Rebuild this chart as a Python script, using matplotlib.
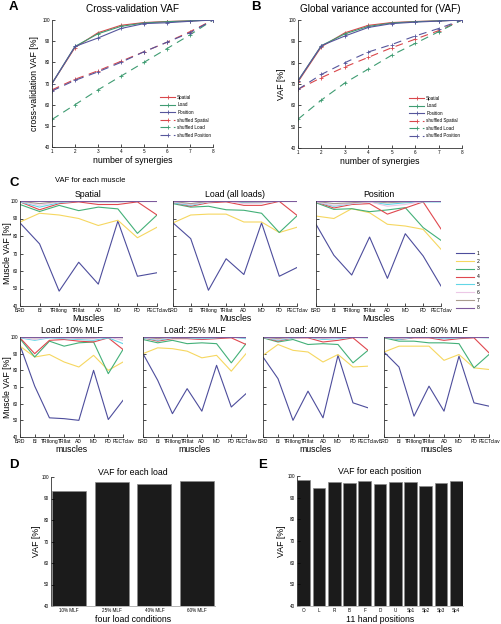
import matplotlib
matplotlib.use('Agg')
import matplotlib.pyplot as plt
from matplotlib.lines import Line2D

plt.rcParams['font.family'] = ['Liberation Sans', 'DejaVu Sans']
plt.rcParams['xtick.direction'] = 'in'
plt.rcParams['ytick.direction'] = 'in'

W, H = 502, 624
fig = plt.figure(figsize=(W / 100, H / 100), dpi=100)


def ax_px(l, t, r, b):
    return fig.add_axes([l / W, 1 - b / H, (r - l) / W, (b - t) / H])


# ---------------- data ----------------
synergies = [1, 2, 3, 4, 5, 6, 7, 8]
series_names = ['Spatial', 'Load', 'Position', 'shuffled Spatial', 'shuffled Load', 'shuffled Position']

cv_spatial = [70, 87, 94, 97.5, 98.8, 99.3, 99.6, 100]
cv_load = [70, 87.5, 93.5, 97, 98.6, 99.2, 99.6, 100]
cv_position = [70, 87.5, 91.5, 96, 98.3, 98.7, 99.4, 100]
cv_sh_spatial = [67, 72, 76, 80.5, 85, 89.5, 94.5, 100]
cv_sh_load = [53, 60, 67, 73.5, 80, 86.5, 93, 100]
cv_sh_position = [66.5, 71.5, 75.5, 80, 85, 89.5, 94, 100]

g_spatial = [71, 87.5, 94, 97.5, 98.8, 99.3, 99.6, 100]
g_load = [71.5, 88, 93.5, 97, 98.6, 99.2, 99.6, 100]
g_position = [71.5, 88, 92.5, 96.5, 98.3, 99, 99.5, 100]
g_sh_spatial = [67.5, 73, 78, 82.5, 87, 91, 95, 100]
g_sh_load = [53.5, 62.5, 70.5, 77, 83.5, 89, 94.5, 100]
g_sh_position = [67.5, 74.5, 80, 85, 88.5, 92.5, 96, 100]

muscles = ['BRD', 'BI', 'TRIlong', 'TRIlat', 'AD', 'MD', 'PD', 'PECTclav']
syn_labels = ['1', '2', '3', '4', '5', '6', '7', '8']

musc_spatial = [
    [87.5, 75.5, 48.5, 65, 52.5, 88.5, 57, 59],
    [88, 93, 92, 90, 86, 89, 79, 85],
    [98, 94, 97.5, 94.5, 96.5, 95.5, 81.5, 92],
    [99.5, 95, 98.5, 99.5, 98, 98, 99.5, 92],
    [99.5, 96.5, 99, 100, 99.5, 99.5, 100, 100],
    [99.8, 97.5, 99.5, 99.8, 99.5, 99.5, 100, 100],
    [99.9, 98.5, 99.8, 100, 99.8, 99.8, 100, 100],
    [100, 100, 100, 100, 100, 100, 100, 100],
]
musc_load_all = [
    [87.5, 78.5, 49, 67, 58, 87.5, 57, 62],
    [87.5, 92, 92.5, 92.5, 88, 88, 82, 85],
    [98.5, 96.5, 97, 95, 94.7, 93, 82, 91.5],
    [99, 97, 99, 99.5, 97.5, 97.5, 99.8, 91.8],
    [99, 97.5, 99.5, 100, 99, 99, 100, 100],
    [99.5, 98, 99.5, 100, 98.5, 99, 100, 100],
    [99.8, 98.5, 99.8, 100, 99.5, 99.5, 100, 100],
    [100, 100, 100, 100, 100, 100, 100, 100],
]
musc_position = [
    [86.7, 69, 57.7, 79.4, 55.8, 81.3, 68.6, 51.4],
    [91.4, 90, 95.6, 93.3, 86.7, 85.7, 83.8, 72.4],
    [99, 95.2, 95.6, 93.9, 94.9, 96.2, 84.8, 77.5],
    [99.5, 96, 98, 98.5, 92.5, 96, 99.5, 84],
    [99.5, 97, 98.5, 99.5, 98, 99, 99.5, 99.5],
    [99.5, 97.5, 98.5, 99.5, 97, 98, 99.8, 100],
    [99.8, 98.5, 99, 99.8, 99, 99.5, 100, 100],
    [100, 100, 100, 100, 100, 100, 100, 100],
]
musc_load10 = [
    [95, 70.5, 51.5, 51, 50, 80, 50.5, 62],
    [94.5, 88, 89.5, 85, 82, 89, 80, 85],
    [99, 88, 97.5, 94.5, 96.5, 97, 78, 92.5],
    [99.5, 90, 98, 98.5, 97.5, 97, 99.5, 92.5],
    [99.5, 98, 99.5, 99, 98.5, 98, 99.5, 96],
    [99.8, 98.5, 99.8, 99.5, 99, 99, 100, 98],
    [100, 99.5, 100, 99.8, 99.5, 99.5, 100, 99.5],
    [100, 100, 100, 100, 100, 100, 100, 100],
]
musc_load25 = [
    [90, 74, 54, 69, 55.5, 83, 58, 66],
    [90, 93.5, 93, 91.5, 87.5, 89, 79.5, 90],
    [98.5, 96.5, 98, 96, 96.5, 96, 84.5, 96],
    [99.5, 97.5, 99, 99, 98.5, 99, 99.5, 95.5],
    [99.5, 98, 99.5, 99.5, 99, 99.5, 100, 99],
    [99.8, 98.5, 99.8, 99.8, 99.5, 99.8, 100, 99.5],
    [100, 99, 100, 100, 99.8, 100, 100, 100],
    [100, 100, 100, 100, 100, 100, 100, 100],
]
musc_load40 = [
    [88, 75, 50, 67.5, 51.5, 89, 60.5, 57.5],
    [89, 95.5, 92, 91, 85, 89.5, 82, 82.5],
    [99.5, 97, 98.5, 95.5, 96, 95.5, 84.5, 92],
    [99.8, 97.5, 99.5, 99.5, 97, 98, 99.5, 92],
    [99.8, 98, 99.5, 99.8, 98.5, 99, 99.8, 99.5],
    [99.9, 98.5, 99.8, 99.9, 99, 99.5, 100, 99.8],
    [100, 99, 100, 100, 99.5, 99.8, 100, 100],
    [100, 100, 100, 100, 100, 100, 100, 100],
]
musc_load60 = [
    [91, 82, 52.5, 70.5, 55.5, 88.5, 60.5, 58.5],
    [91, 94.5, 94.5, 94.5, 86, 89.5, 81.5, 80.5],
    [99.5, 97.5, 97.5, 96.5, 96.5, 96, 81.5, 89.5],
    [99.8, 98.5, 99.5, 99.5, 98, 99, 99.5, 90.5],
    [99.8, 98.5, 99.8, 99.8, 99, 99.5, 99.8, 99.5],
    [99.9, 99, 99.9, 99.9, 99.5, 99.8, 100, 99.8],
    [100, 99.5, 100, 100, 99.8, 100, 100, 100],
    [100, 100, 100, 100, 100, 100, 100, 100],
]

load_conditions = ['10% MLF', '25% MLF', '40% MLF', '60% MLF']
load_vaf = [93.6, 97.7, 96.7, 98.0]

positions = ['O', 'L', 'R', 'B', 'F', 'D', 'U', 'Sp1', 'Sp2', 'Sp3', 'Sp4']
position_vaf = [98.2, 94.3, 97.2, 96.6, 97.5, 96.5, 97.4, 97.1, 95.2, 96.8, 97.8]

# ---------------- styles ----------------
c_red = '#d9474b'
c_green = '#3f9c72'
c_blue = '#56569c'
ab_colors = [c_red, c_green, c_blue, c_red, c_green, c_blue]
ab_styles = ['-', '-', '-', (0, (7, 5)), (0, (7, 5)), (0, (7, 5))]

syn_colors = ['#4d4d9c', '#f6d760', '#43b078', '#e0484f', '#62d6e6',
              '#ecc8e6', '#a99d90', '#7d5a9c']

TICK_FS = 3.3
LAB_FS = 6.3


def style_axes(ax):
    for s in ['top', 'right']:
        ax.spines[s].set_visible(False)
    for s in ['left', 'bottom']:
        ax.spines[s].set_linewidth(0.6)
        ax.spines[s].set_color('#333333')
    ax.tick_params(length=2, width=0.5, labelsize=TICK_FS, pad=1.5)


def set_ylabel_px(ax, left_px, width_px, label_center_px):
    # y-label anchor is the bottom (right edge once rotated); shift by ~half its height
    ax.yaxis.set_label_coords((label_center_px + 4 - left_px) / width_px, 0.5)


# ---------------- panels A and B ----------------
def synergy_panel(ax, data, title, ylabel):
    for vals, name, col, ls in zip(data, series_names, ab_colors, ab_styles):
        ax.plot(synergies, vals, color=col, linestyle=ls, linewidth=0.8,
                marker='+', markersize=2.5, markeredgewidth=0.6, label=name)
    ax.set_xlim(1, 8)
    ax.set_ylim(40, 100)
    ax.set_xticks(synergies)
    ax.set_yticks([40, 50, 60, 70, 80, 90, 100])
    style_axes(ax)
    ax.set_title(title, fontsize=7.2, pad=6)
    ax.set_xlabel('number of synergies', fontsize=LAB_FS, labelpad=1.5)
    ax.set_ylabel(ylabel, fontsize=LAB_FS)
    ax.legend(loc='lower right', bbox_to_anchor=(1.0, 0.06), frameon=False,
              fontsize=3.3, handlelength=3.2, labelspacing=0.55,
              numpoints=1, borderaxespad=0, handletextpad=0.5)


axA = ax_px(52, 20, 213, 147)
synergy_panel(axA, [cv_spatial, cv_load, cv_position, cv_sh_spatial, cv_sh_load, cv_sh_position],
              'Cross-validation VAF', 'cross-validation VAF [%]')
set_ylabel_px(axA, 52, 161, 35)
axB = ax_px(298, 20, 462, 148)
synergy_panel(axB, [g_spatial, g_load, g_position, g_sh_spatial, g_sh_load, g_sh_position],
              'Global variance accounted for (VAF)', 'VAF [%]')
set_ylabel_px(axB, 298, 164, 282)

# ---------------- panel C ----------------
def muscle_panel(ax, data, title, xlabel, show_ylab, l, r):
    x = list(range(len(muscles)))
    for k in range(len(data)):
        ax.plot(x, data[k], color=syn_colors[k], linewidth=0.8, label=syn_labels[k])
    ax.set_xlim(0, len(muscles) - 1)
    ax.set_ylim(40, 100)
    ax.set_xticks(x)
    ax.set_xticklabels(muscles)
    ax.set_yticks([40, 50, 60, 70, 80, 90, 100])
    style_axes(ax)
    ax.tick_params(axis='x', labelsize=3.6)
    if show_ylab:
        ax.set_ylabel('Muscle VAF [%]', fontsize=LAB_FS)
        set_ylabel_px(ax, l, r - l, 8)
    else:
        ax.set_yticklabels([])
    ax.set_title(title, fontsize=6.3, pad=3)
    ax.set_xlabel(xlabel, fontsize=LAB_FS, labelpad=1)


row1 = [(20, 157, musc_spatial, 'Spatial', True),
        (173, 297, musc_load_all, 'Load (all loads)', False),
        (316, 441, musc_position, 'Position', False)]
for l, r, d, t, yl in row1:
    a = ax_px(l, 201, r, 306)
    muscle_panel(a, d, t, 'Muscles', yl, l, r)

row2 = [(20, 123, musc_load10, 'Load: 10% MLF', True),
        (143, 246, musc_load25, 'Load: 25% MLF', False),
        (263, 368, musc_load40, 'Load: 40% MLF', False),
        (384, 489, musc_load60, 'Load: 60% MLF', False)]
for l, r, d, t, yl in row2:
    a = ax_px(l, 337, r, 437)
    muscle_panel(a, d, t, 'muscles', yl, l, r)

handles = [Line2D([], [], color=syn_colors[k], linewidth=0.8) for k in range(len(syn_labels))]
fig.legend(handles, syn_labels, loc='upper left', bbox_to_anchor=(456 / W, 1 - 251 / H),
           frameon=False, fontsize=3.6, handlelength=3.6, labelspacing=0.55,
           handletextpad=0.6, borderaxespad=0, borderpad=0)

fig.text(55 / W, 1 - 180 / H, 'VAF for each muscle', fontsize=5.5, va='center', ha='left')

# ---------------- panels D and E ----------------
def bar_panel(ax, labels, vals, title, xlabel, width):
    x = list(range(1, len(labels) + 1))
    ax.bar(x, vals, width=width, color='#1b1b1b', edgecolor='#8a8a8a', linewidth=0.5)
    ax.set_xlim(1 - width / 2 - 0.02, len(labels) + width / 2 + 0.02)
    ax.set_ylim(40, 100)
    ax.set_xticks(x)
    ax.set_xticklabels(labels)
    ax.set_yticks([40, 50, 60, 70, 80, 90, 100])
    style_axes(ax)
    ax.spines['bottom'].set_color('#aaaaaa')
    ax.tick_params(axis='x', length=0, labelsize=3.3)
    ax.set_title(title, fontsize=6.3, pad=1)
    ax.set_xlabel(xlabel, fontsize=LAB_FS, labelpad=1.5)
    ax.set_ylabel('VAF [%]', fontsize=LAB_FS)


axD = ax_px(51, 477, 215, 606)
bar_panel(axD, load_conditions, load_vaf, 'VAF for each load', 'four load conditions', 0.79)
set_ylabel_px(axD, 51, 164, 37)
axE = ax_px(297, 476, 463, 606)
bar_panel(axE, positions, position_vaf, 'VAF for each position', '11 hand positions', 0.83)
set_ylabel_px(axE, 297, 166, 282)

# ---------------- panel letters ----------------
for letter, (px, py) in {'A': (9, 7), 'B': (251, 7), 'C': (9, 183), 'D': (9, 465), 'E': (258, 465)}.items():
    fig.text(px / W, 1 - py / H, letter, fontsize=9.5, fontweight='bold', va='center', ha='left')

fig.savefig('out.png', dpi=100)
